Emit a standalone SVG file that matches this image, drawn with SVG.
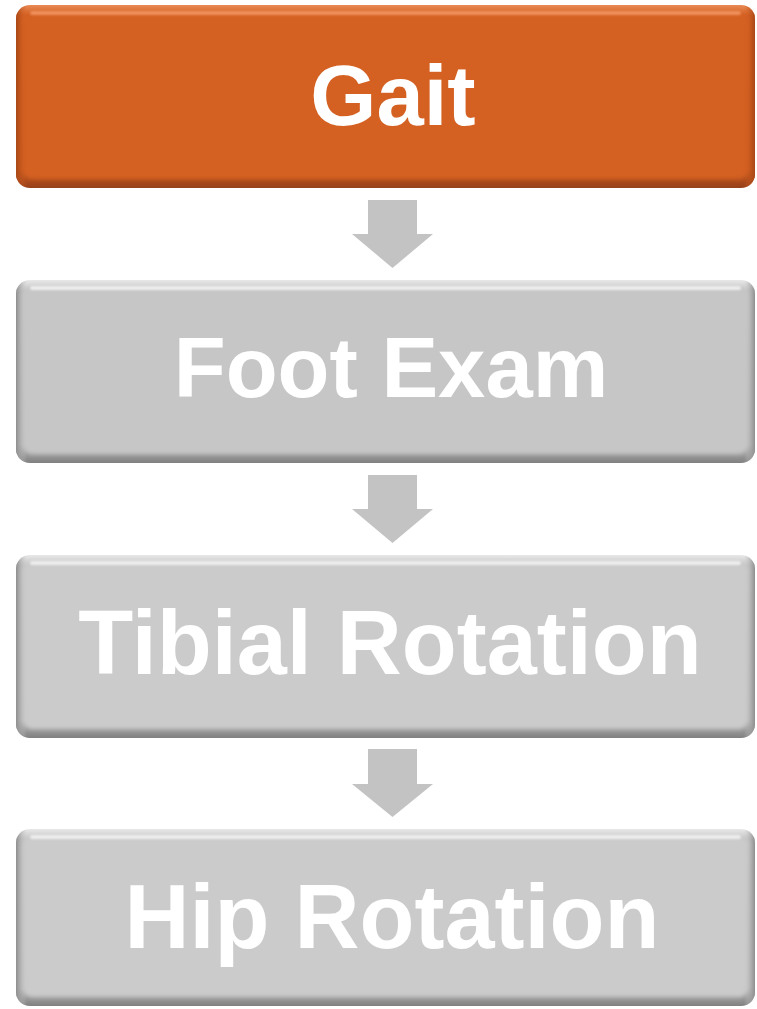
<svg xmlns="http://www.w3.org/2000/svg" width="757" height="1009" viewBox="0 0 757 1009">
  <defs>
    <style>
      .label { font-family: "Liberation Sans", Arial, sans-serif; font-weight: bold; font-size: 85px; fill: #ffffff; text-anchor: middle; }
      .label.wide { font-size: 90px; }
      .arrow { fill: #c3c3c3; }
    </style>
    <!-- bevel edge shading for the orange box -->
    <linearGradient id="orangeEdge" x1="0" y1="0" x2="0" y2="1">
      <stop offset="0" stop-color="#e98a55"/>
      <stop offset="0.06" stop-color="#d46023"/>
      <stop offset="0.9" stop-color="#c95a1f"/>
      <stop offset="1" stop-color="#97401a"/>
    </linearGradient>
    <!-- bevel edge shading for the grey boxes -->
    <linearGradient id="greyEdge" x1="0" y1="0" x2="0" y2="1">
      <stop offset="0" stop-color="#e8e8e8"/>
      <stop offset="0.06" stop-color="#c4c4c4"/>
      <stop offset="0.9" stop-color="#b8b8b8"/>
      <stop offset="1" stop-color="#808080"/>
    </linearGradient>
    <linearGradient id="orangeSide" x1="0" y1="0" x2="1" y2="0">
      <stop offset="0" stop-color="#a84816"/>
      <stop offset="0.015" stop-color="#d46023" stop-opacity="0"/>
      <stop offset="0.985" stop-color="#d46023" stop-opacity="0"/>
      <stop offset="1" stop-color="#a84816"/>
    </linearGradient>
    <linearGradient id="greySide" x1="0" y1="0" x2="1" y2="0">
      <stop offset="0" stop-color="#8e8e8e"/>
      <stop offset="0.015" stop-color="#c8c8c8" stop-opacity="0"/>
      <stop offset="0.985" stop-color="#c8c8c8" stop-opacity="0"/>
      <stop offset="1" stop-color="#8e8e8e"/>
    </linearGradient>
    <filter id="soft" x="-2%" y="-5%" width="104%" height="110%">
      <feGaussianBlur stdDeviation="2.2"/>
    </filter>
    <filter id="softer" x="-2%" y="-50%" width="104%" height="200%">
      <feGaussianBlur stdDeviation="1.2"/>
    </filter>
  </defs>

  <!-- Gait -->
  <g id="node-gait">
    <rect x="16" y="5" width="739" height="183" rx="14" fill="url(#orangeEdge)"/>
    <rect x="16" y="5" width="739" height="183" rx="14" fill="url(#orangeSide)"/>
    <rect x="23" y="12" width="725" height="167" rx="9" fill="#d46023" filter="url(#soft)"/>
    <rect x="30" y="11" width="711" height="4" rx="2" fill="#f0915c" filter="url(#softer)"/>
    <text class="label" x="393" y="125">Gait</text>
  </g>

  <!-- Foot Exam -->
  <g id="node-foot">
    <rect x="16" y="280" width="739" height="183" rx="14" fill="url(#greyEdge)"/>
    <rect x="16" y="280" width="739" height="183" rx="14" fill="url(#greySide)"/>
    <rect x="23" y="287" width="725" height="167" rx="9" fill="#c6c6c6" filter="url(#soft)"/>
    <rect x="30" y="286" width="711" height="4" rx="2" fill="#eeeeee" filter="url(#softer)"/>
    <text class="label" x="391" y="397">Foot Exam</text>
  </g>

  <!-- Tibial Rotation -->
  <g id="node-tibial">
    <rect x="16" y="555" width="739" height="183" rx="14" fill="url(#greyEdge)"/>
    <rect x="16" y="555" width="739" height="183" rx="14" fill="url(#greySide)"/>
    <rect x="23" y="562" width="725" height="167" rx="9" fill="#cbcbcb" filter="url(#soft)"/>
    <rect x="30" y="561" width="711" height="4" rx="2" fill="#eeeeee" filter="url(#softer)"/>
    <text class="label wide" x="390" y="674">Tibial Rotation</text>
  </g>

  <!-- Hip Rotation -->
  <g id="node-hip">
    <rect x="16" y="829" width="739" height="177" rx="14" fill="url(#greyEdge)"/>
    <rect x="16" y="829" width="739" height="177" rx="14" fill="url(#greySide)"/>
    <rect x="23" y="836" width="725" height="161" rx="9" fill="#cbcbcb" filter="url(#soft)"/>
    <rect x="30" y="835" width="711" height="4" rx="2" fill="#eeeeee" filter="url(#softer)"/>
    <text class="label wide" x="392" y="948">Hip Rotation</text>
  </g>

  <!-- block arrows between steps -->
  <g id="connectors">
    <polygon class="arrow" points="368,200 417,200 417,234 433,234 392.5,268 352,234 368,234"/>
    <polygon class="arrow" points="368,475 417,475 417,509 433,509 392.5,543 352,509 368,509"/>
    <polygon class="arrow" points="368,749 417,749 417,784 433,784 392.5,817 352,784 368,784"/>
  </g>
</svg>
